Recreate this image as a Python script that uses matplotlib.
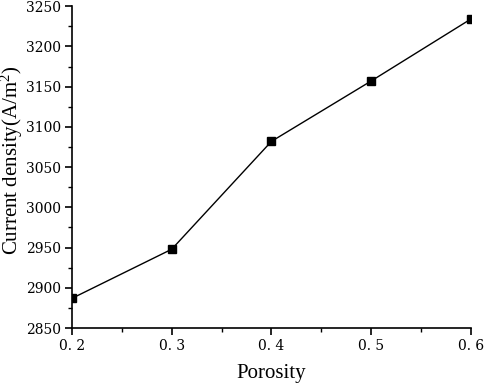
import matplotlib
matplotlib.use("Agg")
import matplotlib.pyplot as plt
from matplotlib.ticker import MultipleLocator, FixedLocator, FixedFormatter

porosity = [0.2, 0.3, 0.4, 0.5, 0.6]
current_density = [2887, 2948, 3082, 3157, 3234]
xtick_vals = [0.2, 0.3, 0.4, 0.5, 0.6]
xtick_labels = ["0. 2", "0. 3", "0. 4", "0. 5", "0. 6"]
ytick_vals = [2850, 2900, 2950, 3000, 3050, 3100, 3150, 3200, 3250]

plt.rcParams['font.family'] = ['Liberation Serif', 'DejaVu Serif']
plt.rcParams['mathtext.default'] = 'regular'

fig = plt.figure(figsize=(4.84, 3.86), dpi=100)
ax = fig.add_axes([0.1488, 0.150, 0.824, 0.834])

ax.plot(porosity, current_density, color='black', lw=1.0, marker='s', ms=5.5,
        mfc='black', mec='black')

ax.set_xlim(0.2, 0.6)
ax.set_ylim(2850, 3250)
ax.xaxis.set_major_locator(FixedLocator(xtick_vals))
ax.xaxis.set_major_formatter(FixedFormatter(xtick_labels))
ax.xaxis.set_minor_locator(MultipleLocator(0.05))
ax.yaxis.set_major_locator(FixedLocator(ytick_vals))
ax.yaxis.set_minor_locator(MultipleLocator(25))

for s in ['top', 'right']:
    ax.spines[s].set_visible(False)
for s in ['left', 'bottom']:
    ax.spines[s].set_linewidth(1.2)

ax.tick_params(which='major', direction='out', length=5, width=1.2, labelsize=10, pad=3)
ax.tick_params(which='minor', direction='out', length=3, width=1.0)
for lab in ax.get_xticklabels() + ax.get_yticklabels():
    lab.set_fontfamily('DejaVu Serif')

ax.set_xlabel('Porosity', fontsize=15)
ax.set_ylabel('Current density(A/m$^2$)', fontsize=15)
ax.xaxis.label.set_va('center')
ax.yaxis.label.set_va('center')
ax.yaxis.label.set_rotation_mode('anchor')
ax.xaxis.set_label_coords(0.5, -0.140)
ax.yaxis.set_label_coords(-0.150, 0.52)

fig.savefig('out.png', dpi=100)
